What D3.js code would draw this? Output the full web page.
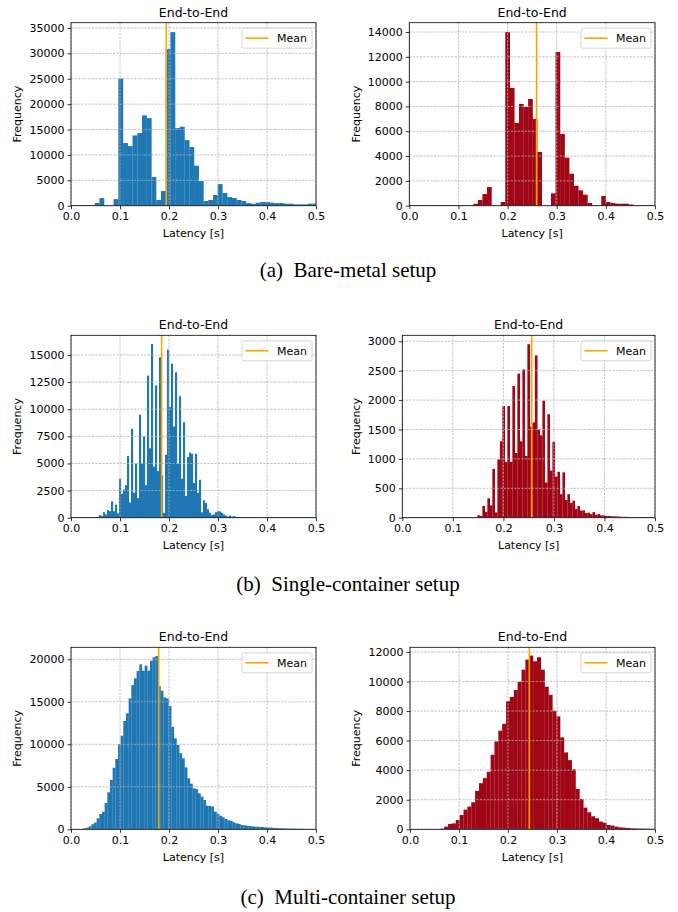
<!DOCTYPE html>
<html>
<head>
<meta charset="utf-8">
<script src="https://cdn.jsdelivr.net/npm/d3@7"></script>
<style>
body { margin: 0; background: #fff; }
svg text { font-family: "DejaVu Sans", sans-serif; fill: #000; }
</style>
</head>
<body>
<div id="chart"></div>
<script>
// Latency histograms, left column = blue, right column = dark red.
// Each histogram: first bin edge, bin width, counts, mean, y ticks, top of y range

var xTicks = [0.0, 0.1, 0.2, 0.3, 0.4, 0.5];
var panelTitle = "End-to-End";
var xLabel = "Latency [s]";
var yLabel = "Frequency";
var legendLabel = "Mean";
var captions = ["(a)\u00a0\u00a0Bare-metal setup", "(b)\u00a0\u00a0Single-container setup", "(c)\u00a0\u00a0Multi-container setup"];

// (a) bare-metal
var bareLeftStart = 0, bareLeftWidth = 0.00966, bareLeftMean = 0.1945;
var bareLeftCounts = [40, 40, 40, 40, 40, 525, 1500, 0, 0, 1300,
	25060, 12330, 11740, 13840, 14300, 17780, 17250, 5640, 1115, 2890,
	30830, 34180, 15280, 15550, 12920, 11550, 7870, 4850, 920, 1115,
	2100, 4260, 2490, 1700, 1510, 1115, 920, 525, 390, 590,
	720, 720, 590, 525, 525, 390, 390, 260, 260, 260,
	390, 390];
var bareLeftYTicks = [0, 5000, 10000, 15000, 20000, 25000, 30000, 35000];
var bareLeftYTop = 36040;

var bareRightStart = 0, bareRightWidth = 0.0093, bareRightMean = 0.259;
var bareRightCounts = [20, 20, 20, 20, 20, 20, 20, 20, 20, 20,
	20, 20, 20, 20, 150, 457, 940, 1505, 0, 0,
	300, 14000, 9490, 6670, 8200, 7960, 8600, 6990, 4330, 0,
	0, 995, 12390, 5780, 3870, 2580, 1610, 1240, 890, 215,
	0, 0, 780, 300, 215, 160, 160, 160, 100, 20,
	20, 20, 20, 20];
var bareRightYTicks = [0, 2000, 4000, 6000, 8000, 10000, 12000, 14000];
var bareRightYTop = 14750;

// (b) single container
var singleLeftStart = 0, singleLeftWidth = 0.00408, singleLeftMean = 0.185;
var singleLeftCounts = [15, 15, 15, 15, 15, 15, 15, 15, 15, 15,
	15, 15, 60, 80, 250, 150, 500, 300, 700, 600,
	1500, 600, 1200, 400, 3600, 2200, 2600, 3000, 5700, 1400,
	8200, 2300, 5000, 1800, 9500, 5000, 7500, 3000, 13100, 6400,
	16000, 4700, 12200, 4300, 14800, 3900, 450, 5800, 15500, 10200,
	14200, 8400, 13400, 5000, 11200, 3600, 8800, 2000, 5600, 6000,
	5900, 3200, 5900, 2300, 3500, 500, 1600, 1350, 770, 460,
	250, 300, 500, 600, 580, 450, 300, 200, 100, 200,
	100, 150, 80, 60, 50, 40, 40, 30, 30, 30,
	30, 30, 30, 30, 30, 30, 30, 30, 30, 30,
	30, 30, 30, 30, 30, 30, 30, 30, 30, 30,
	30, 30, 30, 30, 30, 30, 30, 30, 30, 30, 30, 30];
var singleLeftYTicks = [0, 2500, 5000, 7500, 10000, 12500, 15000];
var singleLeftYTop = 16815;

var singleRightStart = 0, singleRightWidth = 0.00495, singleRightMean = 0.256;
var singleRightCounts = [5, 5, 5, 5, 5, 5, 5, 5, 5, 5,
	5, 5, 5, 5, 5, 5, 5, 5, 5, 5,
	5, 5, 5, 5, 5, 5, 5, 5, 5, 5,
	40, 30, 200, 100, 330, 210, 830, 90, 990, 1300,
	1900, 950, 1900, 950, 2240, 1100, 2450, 1300, 2520, 1050,
	2950, 1550, 1620, 2760, 1500, 1400, 1990, 600, 1760, 800,
	1290, 700, 780, 400, 770, 300, 400, 250, 290, 150,
	200, 120, 125, 80, 85, 60, 95, 50, 60, 40,
	40, 30, 30, 25, 25, 20, 20, 15, 15, 15,
	10, 10, 10, 10, 10, 10, 10, 10, 10, 10, 10];
var singleRightYTicks = [0, 500, 1000, 1500, 2000, 2500, 3000];
var singleRightYTop = 3102;

// (c) multi container
var multiLeftStart = 0.0034, multiLeftWidth = 0.00544, multiLeftMean = 0.179;
var multiLeftCounts = [30, 30, 30, 30,
	120, 200, 350, 590, 780, 1300, 1800, 2080, 3100, 4350,
	5800, 7250, 8270, 10000, 11000, 12740, 13640, 15400, 16970, 17760,
	18620, 19400, 18660, 19250, 18660, 19840, 20230, 20380, 16860, 16300,
	15520, 15400, 14500, 12070, 10700, 9920, 8940, 8350, 7290, 6000,
	5370, 4820, 4740, 4230, 3840, 3450, 2780, 2740, 2670, 2080,
	1800, 1600, 1410, 1215, 1060, 980, 820, 700, 630, 510,
	470, 430, 390, 350, 310, 310, 270, 270, 235, 200,
	200, 160, 160, 120, 120, 100, 90, 80, 80, 70,
	60, 60, 50, 50, 40, 40, 40];
var multiLeftYTicks = [0, 5000, 10000, 15000, 20000];
var multiLeftYTop = 21412;

var multiRightStart = 0.00667, multiRightWidth = 0.00789, multiRightMean = 0.2435;
var multiRightCounts = [15, 15, 15, 15, 15, 15, 15,
	45, 180, 360, 400, 630, 970, 1330, 1540, 1830, 2600,
	3120, 3460, 3890, 5040, 5940, 6670, 7140, 8660, 8950, 9420,
	9970, 10800, 11480, 11750, 11370, 11640, 10800, 9650, 9100, 8020,
	7640, 6220, 5200, 4680, 4050, 2730, 2060, 1470, 1150, 880,
	750, 520, 450, 290, 250, 180, 135, 110, 90, 70,
	60, 50, 45, 40, 30, 20, 20];
var multiRightYTicks = [0, 2000, 4000, 6000, 8000, 10000, 12000];
var multiRightYTop = 12312;

var blue = "#1f77b4", darkRed = "#a00616", meanColor = "#ffa500";

//Where every axes box sits on the page
var panels = [
	{start: bareLeftStart, width: bareLeftWidth, counts: bareLeftCounts, mean: bareLeftMean, yTicks: bareLeftYTicks, yTop: bareLeftYTop, color: blue,
		box: {left: 71, right: 316, top: 22.7, bottom: 205.7}, ylabelX: 17},
	{start: bareRightStart, width: bareRightWidth, counts: bareRightCounts, mean: bareRightMean, yTicks: bareRightYTicks, yTop: bareRightYTop, color: darkRed,
		box: {left: 409.3, right: 655, top: 22.7, bottom: 205.7}, ylabelX: 356},
	{start: singleLeftStart, width: singleLeftWidth, counts: singleLeftCounts, mean: singleLeftMean, yTicks: singleLeftYTicks, yTop: singleLeftYTop, color: blue,
		box: {left: 71, right: 316, top: 335.3, bottom: 517.7}, ylabelX: 17},
	{start: singleRightStart, width: singleRightWidth, counts: singleRightCounts, mean: singleRightMean, yTicks: singleRightYTicks, yTop: singleRightYTop, color: darkRed,
		box: {left: 402.3, right: 655, top: 335.3, bottom: 517.7}, ylabelX: 356},
	{start: multiLeftStart, width: multiLeftWidth, counts: multiLeftCounts, mean: multiLeftMean, yTicks: multiLeftYTicks, yTop: multiLeftYTop, color: blue,
		box: {left: 71, right: 316, top: 647.3, bottom: 829.3}, ylabelX: 17},
	{start: multiRightStart, width: multiRightWidth, counts: multiRightCounts, mean: multiRightMean, yTicks: multiRightYTicks, yTop: multiRightYTop, color: darkRed,
		box: {left: 410, right: 655, top: 647.3, bottom: 829.3}, ylabelX: 356}
];
var captionY = [277, 591, 904];

var svg = d3.select("#chart").append("svg")
	.attr("width", 678)
	.attr("height", 912);

function drawPanel(p)
{
	var b = p.box;
	var x = d3.scaleLinear().domain([0, 0.5]).range([b.left, b.right]);
	var y = d3.scaleLinear().domain([0, p.yTop]).range([b.bottom, b.top]);

	var g = svg.append("g");

	//Clip so bars past 0.5 are cut like the original
	var clipId = "clip" + Math.round(b.left) + "_" + Math.round(b.top);
	g.append("clipPath").attr("id", clipId)
		.append("rect")
		.attr("x", b.left).attr("y", b.top)
		.attr("width", b.right - b.left).attr("height", b.bottom - b.top);

	//Bars
	var bins = p.counts.map(function(c, i){
		return {x0: p.start + i * p.width, x1: p.start + (i + 1) * p.width, count: c};
	});
	g.append("g")
		.attr("clip-path", "url(#" + clipId + ")")
		.selectAll("rect")
		.data(bins)
		.enter()
		.append("rect")
		.attr("x", function(d){ return x(d.x0); })
		.attr("width", function(d){ return x(d.x1) - x(d.x0) + 0.15; })
		.attr("y", function(d){ return y(d.count); })
		.attr("height", function(d){ return y(0) - y(d.count); })
		.attr("fill", p.color);

	//Grid goes above the bars, as matplotlib does
	var grid = g.append("g").attr("stroke", "#b0b0b0").attr("stroke-width", 0.8)
		.attr("stroke-dasharray", "2.2,1.3");
	grid.selectAll(".vgrid").data(xTicks).enter().append("line")
		.attr("x1", function(d){ return x(d); }).attr("x2", function(d){ return x(d); })
		.attr("y1", b.top).attr("y2", b.bottom);
	grid.selectAll(".hgrid").data(p.yTicks).enter().append("line")
		.attr("x1", b.left).attr("x2", b.right)
		.attr("y1", function(d){ return y(d); }).attr("y2", function(d){ return y(d); });

	//Mean line
	g.append("line")
		.attr("x1", x(p.mean)).attr("x2", x(p.mean))
		.attr("y1", b.top).attr("y2", b.bottom)
		.attr("stroke", meanColor).attr("stroke-width", 1.6);

	//Axes
	var xAxis = g.append("g")
		.attr("transform", "translate(0," + b.bottom + ")")
		.call(d3.axisBottom(x).tickValues(xTicks).tickFormat(d3.format(".1f")).tickSize(3.5).tickPadding(3));
	var yAxis = g.append("g")
		.attr("transform", "translate(" + b.left + ",0)")
		.call(d3.axisLeft(y).tickValues(p.yTicks).tickFormat(d3.format("d")).tickSize(3.5).tickPadding(3));
	[xAxis, yAxis].forEach(function(a){
		a.select(".domain").remove();
		a.selectAll("line").attr("stroke", "#000").attr("stroke-width", 0.8);
		a.selectAll("text").style("font-size", "11px").style("font-family", "DejaVu Sans").attr("fill", "#000");
	});

	//Spines
	g.append("rect")
		.attr("x", b.left).attr("y", b.top)
		.attr("width", b.right - b.left).attr("height", b.bottom - b.top)
		.attr("fill", "none").attr("stroke", "#000").attr("stroke-width", 0.8);

	//Title and labels
	g.append("text")
		.attr("x", (b.left + b.right) / 2).attr("y", b.top - 6)
		.attr("text-anchor", "middle")
		.style("font-size", "12.5px")
		.text(panelTitle);
	g.append("text")
		.attr("x", (b.left + b.right) / 2).attr("y", b.bottom + 31.5)
		.attr("text-anchor", "middle")
		.style("font-size", "11px")
		.text(xLabel);
	g.append("text")
		.attr("transform", "translate(" + p.ylabelX + "," + ((b.top + b.bottom) / 2) + ") rotate(-90)")
		.attr("text-anchor", "middle")
		.attr("dy", "0.35em")
		.style("font-size", "11px")
		.text(yLabel);

	//Legend box in upper right
	var lw = 70, lh = 20;
	var lx = b.right - 4 - lw, ly = b.top + 5.5;
	var legend = g.append("g");
	legend.append("rect")
		.attr("x", lx).attr("y", ly).attr("width", lw).attr("height", lh)
		.attr("rx", 2).attr("ry", 2)
		.attr("fill", "#fff").attr("fill-opacity", 0.8)
		.attr("stroke", "#cccccc").attr("stroke-width", 0.8);
	legend.append("line")
		.attr("x1", lx + 3.5).attr("x2", lx + 26.5)
		.attr("y1", ly + lh / 2).attr("y2", ly + lh / 2)
		.attr("stroke", meanColor).attr("stroke-width", 1.6);
	legend.append("text")
		.attr("x", lx + 35).attr("y", ly + lh / 2)
		.attr("dy", "0.35em")
		.style("font-size", "11px")
		.text(legendLabel);
}

panels.forEach(drawPanel);

//Subfigure captions
svg.selectAll(".caption")
	.data(captions)
	.enter()
	.append("text")
	.attr("class", "caption")
	.attr("x", 348)
	.attr("y", function(d, i){ return captionY[i]; })
	.attr("text-anchor", "middle")
	.style("font-family", "'Liberation Serif', 'Times New Roman', serif")
	.style("font-size", "21px")
	.text(function(d){ return d; });
</script>
</body>
</html>
